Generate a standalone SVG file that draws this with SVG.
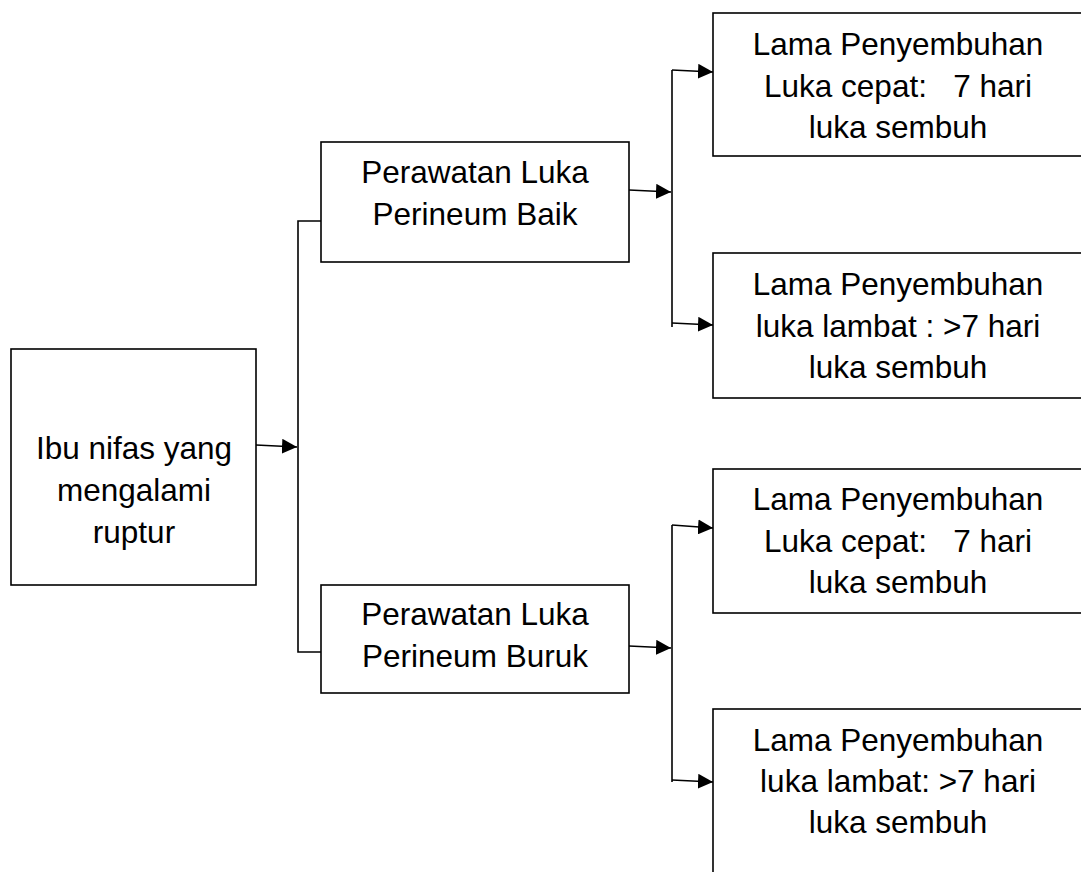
<svg xmlns="http://www.w3.org/2000/svg" width="1081" height="872" viewBox="0 0 1081 872">
<style>
.box{fill:#fff;stroke:#000;stroke-width:1.6}
.ln{fill:none;stroke:#000;stroke-width:1.6}
.t{font-family:"Liberation Sans",Arial,sans-serif;font-size:31.5px;fill:#000;text-anchor:middle}
</style>
<defs>
<marker id="ah" markerUnits="userSpaceOnUse" markerWidth="16" markerHeight="15" refX="15" refY="7.5" orient="auto">
<path d="M0,0 L15,7.5 L0,15 z" fill="#000"/>
</marker>
</defs>
<rect width="1081" height="872" fill="#fff"/>
<g id="connectors">
<path class="ln" d="M256,445 L297,447" marker-end="url(#ah)"/>
<path class="ln" d="M321,221 L298,221 L298,652 L321,652"/>
<path class="ln" d="M629,190 L671,192" marker-end="url(#ah)"/>
<path class="ln" d="M629,646 L671,648" marker-end="url(#ah)"/>
<path class="ln" d="M672,327 L672,70"/>
<path class="ln" d="M672,70 L713,72" marker-end="url(#ah)"/>
<path class="ln" d="M672,323 L713,325" marker-end="url(#ah)"/>
<path class="ln" d="M672,525 L672,782"/>
<path class="ln" d="M672,525 L713,528" marker-end="url(#ah)"/>
<path class="ln" d="M672,780 L713,782" marker-end="url(#ah)"/>
</g>
<g id="n-ibu">
<rect class="box" x="11" y="349" width="245" height="236"/>
<text class="t" x="134" y="459">Ibu nifas yang</text>
<text class="t" x="134" y="501">mengalami</text>
<text class="t" x="134" y="543">ruptur</text>
</g>
<g id="n-baik">
<rect class="box" x="321" y="142" width="308" height="120"/>
<text class="t" x="475" y="183">Perawatan Luka</text>
<text class="t" x="475" y="225">Perineum Baik</text>
</g>
<g id="n-buruk">
<rect class="box" x="321" y="585" width="308" height="108"/>
<text class="t" x="475" y="625">Perawatan Luka</text>
<text class="t" x="475" y="667">Perineum Buruk</text>
</g>
<g id="n-r1">
<rect class="box" x="713" y="13" width="380" height="143"/>
<text class="t" x="898" y="55">Lama Penyembuhan</text>
<text class="t" x="898" y="97" xml:space="preserve">Luka cepat:   7 hari</text>
<text class="t" x="898" y="138">luka sembuh</text>
</g>
<g id="n-r2">
<rect class="box" x="713" y="253" width="380" height="145"/>
<text class="t" x="898" y="295">Lama Penyembuhan</text>
<text class="t" x="898" y="337">luka lambat : &gt;7 hari</text>
<text class="t" x="898" y="378">luka sembuh</text>
</g>
<g id="n-r3">
<rect class="box" x="713" y="469" width="380" height="144"/>
<text class="t" x="898" y="510">Lama Penyembuhan</text>
<text class="t" x="898" y="552" xml:space="preserve">Luka cepat:   7 hari</text>
<text class="t" x="898" y="593">luka sembuh</text>
</g>
<g id="n-r4">
<rect class="box" x="713" y="709" width="380" height="180"/>
<text class="t" x="898" y="751">Lama Penyembuhan</text>
<text class="t" x="898" y="792">luka lambat: &gt;7 hari</text>
<text class="t" x="898" y="833">luka sembuh</text>
</g>
</svg>
